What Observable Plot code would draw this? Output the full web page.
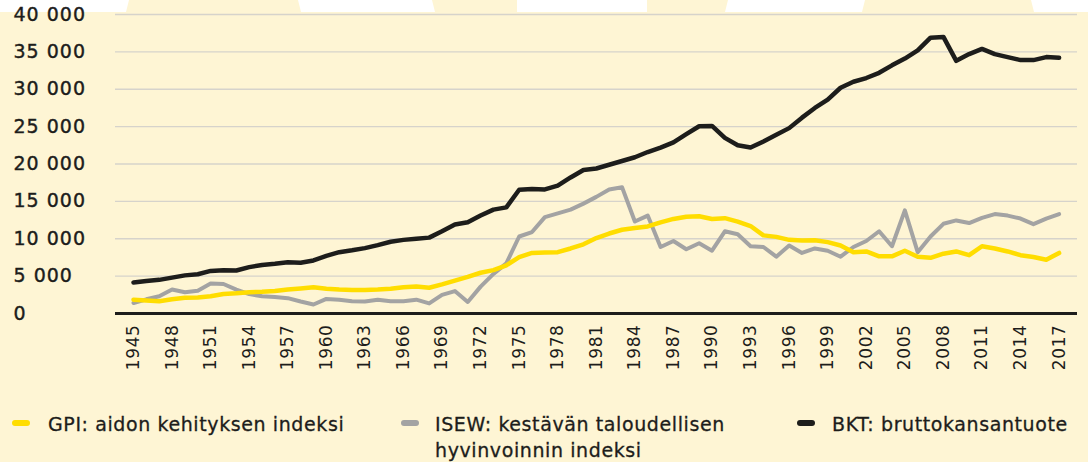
<!DOCTYPE html>
<html><head><meta charset="utf-8">
<script src="https://cdn.jsdelivr.net/npm/d3@7"></script>
<script src="https://cdn.jsdelivr.net/npm/@observablehq/plot@0.6"></script>
<style>
html,body{margin:0;padding:0;background:#fef5d4;}
#wrap{position:relative;width:1088px;height:462px;overflow:hidden;font-family:"DejaVu Sans",sans-serif;color:#1d1d1b;}
#deco{position:absolute;left:0;top:0;}
#chart{position:absolute;left:0;top:0;}
.sw{position:absolute;width:18px;height:6px;border-radius:3px;}
.lt{position:absolute;font-size:19px;letter-spacing:0.6px;line-height:26px;white-space:nowrap;-webkit-text-stroke:0.3px #1d1d1b;}
#chart g[aria-label="y-axis tick label"] text{letter-spacing:1px;stroke:#1d1d1b;stroke-width:0.4px;}
#chart g[aria-label="x-axis tick label"] text{letter-spacing:0.6px;}
</style>
</head><body>
<div id="wrap">
<svg id="deco" width="1088" height="12">
  <rect x="0" y="0" width="1088" height="12" fill="#ffffff"/>
  <polygon points="129,0 298,0 301,12 126,12" fill="#fef5d4"/>
  <polygon points="432,0 517,0 517,12 435,12" fill="#fef5d4"/>
  <polygon points="647,0 728,0 725,12 647,12" fill="#fef5d4"/>
  <polygon points="865,0 1031,0 1034,12 862,12" fill="#fef5d4"/>
</svg>
<div id="chart"></div>
<div class="sw" style="left:12px;top:420px;background:#ffdd00"></div>
<div class="lt" style="left:48px;top:411px">GPI: aidon kehityksen indeksi</div>
<div class="sw" style="left:401px;top:420px;background:#a3a3a3"></div>
<div class="lt" style="left:435px;top:411px">ISEW: kestävän taloudellisen<br>hyvinvoinnin indeksi</div>
<div class="sw" style="left:797px;top:420px;background:#1d1d1b"></div>
<div class="lt" style="left:832px;top:411px">BKT: bruttokansantuote</div>
</div>
<script>
const years = [1945,1946,1947,1948,1949,1950,1951,1952,1953,1954,1955,1956,1957,1958,1959,1960,1961,1962,1963,1964,1965,1966,1967,1968,1969,1970,1971,1972,1973,1974,1975,1976,1977,1978,1979,1980,1981,1982,1983,1984,1985,1986,1987,1988,1989,1990,1991,1992,1993,1994,1995,1996,1997,1998,1999,2000,2001,2002,2003,2004,2005,2006,2007,2008,2009,2010,2011,2012,2013,2014,2015,2016,2017];

const gpi = [1850,1750,1650,1900,2100,2150,2300,2600,2700,2850,2900,3000,3200,3350,3500,3300,3200,3150,3150,3200,3300,3500,3600,3450,3900,4400,4900,5450,5800,6450,7550,8100,8150,8200,8700,9250,10100,10700,11200,11450,11650,12200,12650,12950,13000,12650,12750,12300,11700,10450,10250,9850,9750,9800,9550,9100,8200,8300,7650,7650,8400,7600,7450,8000,8300,7800,9000,8700,8300,7800,7550,7200,8100];

const isew = [1400,1900,2300,3200,2850,3050,4000,3950,3200,2600,2300,2200,2050,1600,1200,1950,1850,1650,1600,1850,1650,1650,1850,1350,2500,3000,1550,3600,5300,6700,10300,10900,12900,13400,13900,14700,15600,16600,16900,12300,13100,8900,9700,8600,9400,8400,11000,10600,9000,8900,7600,9100,8100,8700,8400,7600,8900,9700,11000,9000,13800,8200,10300,12000,12450,12100,12800,13300,13100,12700,11950,12700,13300];

const bkt = [4150,4350,4500,4800,5100,5250,5700,5800,5750,6200,6500,6650,6850,6800,7100,7700,8200,8450,8750,9150,9600,9850,10000,10150,11000,11900,12200,13100,13900,14200,16550,16650,16600,17100,18200,19200,19400,19900,20400,20900,21600,22200,22900,24000,25050,25100,23500,22500,22200,23000,23900,24800,26200,27500,28600,30200,31000,31500,32200,33200,34100,35200,36900,37000,33800,34700,35400,34700,34300,33900,33900,34300,34200];

const xTicks = [1945,1948,1951,1954,1957,1960,1963,1966,1969,1972,1975,1978,1981,1984,1987,1990,1993,1996,1999,2002,2005,2008,2011,2014,2017];
const yTicks = [0,5000,10000,15000,20000,25000,30000,35000,40000];

const seriesNames = ["GPI: aidon kehityksen indeksi","ISEW: kestävän taloudellisen hyvinvoinnin indeksi","BKT: bruttokansantuote"];
const seriesColors = ["#ffdd00","#a3a3a3","#1d1d1b"];

const toRows = (vals) => years.map((y,i) => ({year:y, value:vals[i]}));
const fmt = d => d3.format(",")(d).replace(/,/g, " ");

const chart = Plot.plot({
  width:1088, height:385,
  marginTop:14, marginBottom:72, marginLeft:115, marginRight:11,
  style:{background:"transparent", fontFamily:"DejaVu Sans, sans-serif", fontSize:"18px", color:"#1d1d1b"},
  x:{domain:[1943.6, 2018.43]},
  y:{domain:[0,40000]},
  marks:[
    Plot.gridY(yTicks,{stroke:"#d6d3cb", strokeOpacity:1, strokeWidth:1.3}),
    Plot.axisY(yTicks,{tickSize:0, tickPadding:0, textAnchor:"start", dx:-102, tickFormat:fmt, fontSize:19, label:null, fill:"#1d1d1b"}),
    Plot.axisX(xTicks,{tickSize:0, tickPadding:11, tickRotate:-90, tickFormat:d=>String(d), label:null, fontSize:17, fill:"#1d1d1b"}),
    Plot.ruleY([0],{stroke:"#1d1d1b", strokeWidth:3}),
    Plot.lineY(toRows(isew),{x:"year", y:"value", stroke:seriesColors[1], strokeWidth:4, strokeLinejoin:"round", strokeLinecap:"round"}),
    Plot.lineY(toRows(gpi),{x:"year", y:"value", stroke:seriesColors[0], strokeWidth:4.5, strokeLinejoin:"round", strokeLinecap:"round"}),
    Plot.lineY(toRows(bkt),{x:"year", y:"value", stroke:seriesColors[2], strokeWidth:4.5, strokeLinejoin:"round", strokeLinecap:"round"})
  ]
});
document.getElementById("chart").appendChild(chart);
</script>
</body></html>
